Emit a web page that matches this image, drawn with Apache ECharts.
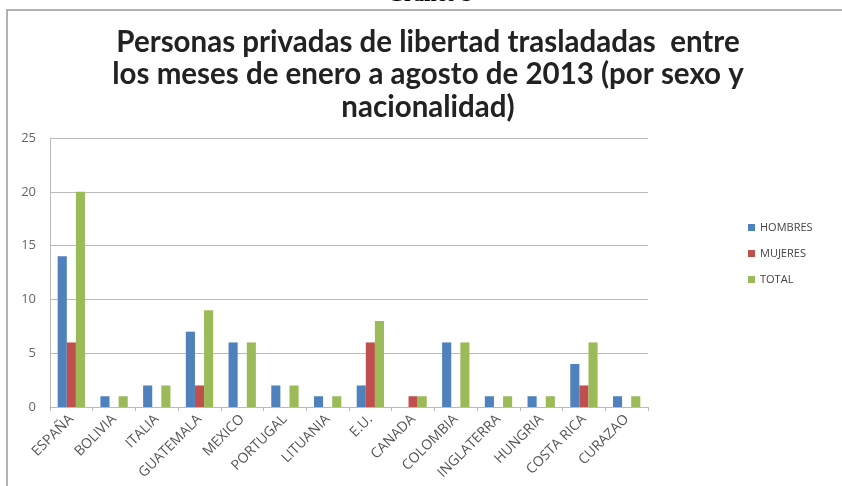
<!DOCTYPE html>
<html><head><meta charset="utf-8">
<script src="https://cdn.jsdelivr.net/npm/echarts@6/dist/echarts.min.js"></script>
<style>html,body{margin:0;padding:0;background:#fff}#c{width:842px;height:486px}</style>
</head><body><div id="c"></div>
<script>
const categories = ['ESPAÑA','BOLIVIA','ITALIA','GUATEMALA','MEXICO','PORTUGAL','LITUANIA','E.U.','CANADA','COLOMBIA','INGLATERRA','HUNGRIA','COSTA RICA','CURAZAO'];
const hombres = [14,1,2,7,6,2,1,2,0,6,1,1,4,1];
const mujeres = [6,0,0,2,0,0,0,6,1,0,0,0,2,0];
const total   = [20,1,2,9,6,2,1,8,1,6,1,1,6,1];
const yTicks = [0,5,10,15,20,25];
const titleText = 'Personas privadas de libertad trasladadas  entre\nlos meses de enero a agosto de 2013 (por sexo y\nnacionalidad)';

const chart = echarts.init(document.getElementById('c'), null, {renderer:'canvas'});
chart.setOption({
  animation:false,
  backgroundColor:'#fff',
  graphic:[
    {type:'text', x:430, y:-15, style:{text:'Gráfico 3', font:'bold 21px "Liberation Serif"', fill:'#000', align:'center'}},
    {type:'polyline', shape:{points:[[7,486],[7,10],[842,10]]}, style:{stroke:'#999', lineWidth:1.5, fill:null}},
    {type:'text', x:428, y:26, style:{text:titleText, font:'bold 29.5px Lato', fill:'#222', align:'center', lineHeight:32.5}}
  ],
  legend:{
    orient:'vertical', left:743, top:217, itemWidth:7, itemHeight:7, itemGap:15,
    icon:'rect',
    textStyle:{fontFamily:'Open Sans', fontSize:11, color:'#444'},
    data:['HOMBRES','MUJERES','TOTAL']
  },
  grid:{left:50, right:194, top:138, bottom:79, containLabel:false},
  xAxis:{
    type:'category', data:categories,
    axisLine:{lineStyle:{color:'#bbb'}},
    axisTick:{show:true, length:4, lineStyle:{color:'#bbb'}},
    axisLabel:{rotate:45, interval:0, fontFamily:'Open Sans', fontSize:14, color:'#555', margin:10}
  },
  yAxis:{
    type:'value', min:0, max:25, interval:5,
    axisLine:{show:true, lineStyle:{color:'#bbb'}}, axisTick:{show:false},
    axisLabel:{fontFamily:'Open Sans', fontSize:13, color:'#666', margin:14,
      formatter:v=>yTicks.includes(v)?String(v):''},
    splitLine:{lineStyle:{color:'#bbb'}}
  },
  series:[
    {name:'HOMBRES', type:'bar', data:hombres, itemStyle:{color:'#4F81BD'}, barGap:'0%', barCategoryGap:'36%'},
    {name:'MUJERES', type:'bar', data:mujeres, itemStyle:{color:'#C0504D'}, barGap:'0%', barCategoryGap:'36%'},
    {name:'TOTAL', type:'bar', data:total, itemStyle:{color:'#9BBB59'}, barGap:'0%', barCategoryGap:'36%'}
  ]
});
</script></body></html>
